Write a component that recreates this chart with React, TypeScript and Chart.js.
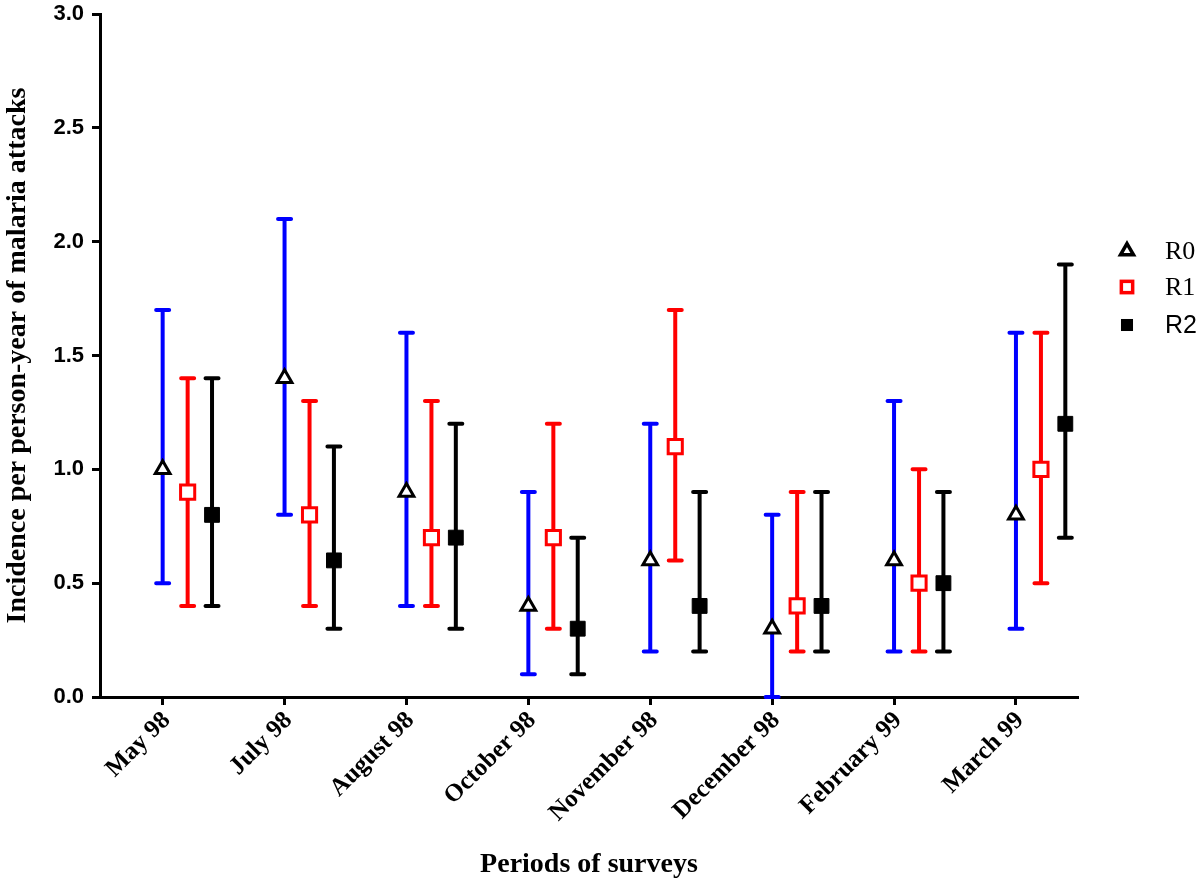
import React, { useEffect, useRef } from 'react';
import { Chart, registerables } from 'chart.js';

Chart.register(...registerables);

const categories = ['May 98', 'July 98', 'August 98', 'October 98', 'November 98', 'December 98', 'February 99', 'March 99'];
const seriesNames = ['R0', 'R1', 'R2'];

const r0Values = [1.0, 1.4, 0.9, 0.4, 0.6, 0.3, 0.6, 0.8];
const r0Low = [0.5, 0.8, 0.4, 0.1, 0.2, 0.0, 0.2, 0.3];
const r0High = [1.7, 2.1, 1.6, 0.9, 1.2, 0.8, 1.3, 1.6];

const r1Values = [0.9, 0.8, 0.7, 0.7, 1.1, 0.4, 0.5, 1.0];
const r1Low = [0.4, 0.4, 0.4, 0.3, 0.6, 0.2, 0.2, 0.5];
const r1High = [1.4, 1.3, 1.3, 1.2, 1.7, 0.9, 1.0, 1.6];

const r2Values = [0.8, 0.6, 0.7, 0.3, 0.4, 0.4, 0.5, 1.2];
const r2Low = [0.4, 0.3, 0.3, 0.1, 0.2, 0.2, 0.2, 0.7];
const r2High = [1.4, 1.1, 1.2, 0.7, 0.9, 0.9, 0.9, 1.9];

const yTickValues = [0, 0.5, 1.0, 1.5, 2.0, 2.5, 3.0];

const yTitle = 'Incidence per person-year of malaria attacks';
const xTitle = 'Periods of surveys';

const SERIF = "'Liberation Serif', 'Times New Roman', serif";
const SANS = "'Liberation Sans', Arial, Helvetica, sans-serif";

type Series = {
  name: string;
  values: number[];
  low: number[];
  high: number[];
  offset: number;
  barColor: string;
  marker: 'triangle' | 'openSquare' | 'filledSquare';
  legendFont: string;
  legendSize: number;
};

const series: Series[] = [
  { name: seriesNames[0], values: r0Values, low: r0Low, high: r0High, offset: 0, barColor: '#0000ff', marker: 'triangle', legendFont: `26px ${SERIF}`, legendSize: 7.5 },
  { name: seriesNames[1], values: r1Values, low: r1Low, high: r1High, offset: 0.205, barColor: '#ff0000', marker: 'openSquare', legendFont: `26px ${SERIF}`, legendSize: 8 },
  { name: seriesNames[2], values: r2Values, low: r2Low, high: r2High, offset: 0.405, barColor: '#000000', marker: 'filledSquare', legendFont: `25px ${SANS}`, legendSize: 8.5 },
];

function drawMarker(ctx: CanvasRenderingContext2D, kind: Series['marker'], x: number, y: number, size: number) {
  ctx.save();
  ctx.lineJoin = 'miter';
  if (kind === 'triangle') {
    const r = size;
    ctx.beginPath();
    ctx.moveTo(x, y - r);
    ctx.lineTo(x + r * Math.sin((2 * Math.PI) / 3), y - r * Math.cos((2 * Math.PI) / 3));
    ctx.lineTo(x + r * Math.sin((4 * Math.PI) / 3), y - r * Math.cos((4 * Math.PI) / 3));
    ctx.closePath();
    ctx.fillStyle = '#ffffff';
    ctx.fill();
    ctx.lineWidth = 3.5;
    ctx.strokeStyle = '#000000';
    ctx.stroke();
  } else if (kind === 'openSquare') {
    const h = size * Math.SQRT1_2;
    ctx.fillStyle = '#ffffff';
    ctx.fillRect(x - h, y - h, 2 * h, 2 * h);
    ctx.lineWidth = 3.5;
    ctx.strokeStyle = '#ff0000';
    ctx.strokeRect(x - h, y - h, 2 * h, 2 * h);
  } else {
    const h = size * Math.SQRT1_2;
    ctx.fillStyle = '#000000';
    ctx.fillRect(x - h, y - h, 2 * h, 2 * h);
  }
  ctx.restore();
}

const errorBarPlugin = {
  id: 'errorBars',
  beforeDatasetsDraw(chart: any) {
    const { ctx } = chart;
    const xs = chart.scales.x;
    const ys = chart.scales.y;
    ctx.save();
    series.forEach((s) => {
      ctx.strokeStyle = s.barColor;
      ctx.lineWidth = 4;
      categories.forEach((_, i) => {
        const x = xs.getPixelForValue(i + s.offset);
        const yLo = ys.getPixelForValue(s.low[i]);
        const yHi = ys.getPixelForValue(s.high[i]);
        ctx.lineCap = 'butt';
        ctx.beginPath();
        ctx.moveTo(x, yLo);
        ctx.lineTo(x, yHi);
        ctx.stroke();
        ctx.lineCap = 'round';
        ctx.beginPath();
        ctx.moveTo(x - 6.5, yLo);
        ctx.lineTo(x + 6.5, yLo);
        ctx.moveTo(x - 6.5, yHi);
        ctx.lineTo(x + 6.5, yHi);
        ctx.stroke();
      });
    });
    ctx.restore();
  },
};

const legendPlugin = {
  id: 'customLegend',
  afterDraw(chart: any) {
    const { ctx } = chart;
    const legendX = 1127;
    const textX = 1165;
    const rowY = [251, 287, 325];
    ctx.save();
    series.forEach((s, k) => {
      drawMarker(ctx, s.marker, legendX, rowY[k], s.legendSize);
      ctx.font = s.legendFont;
      ctx.fillStyle = '#000000';
      ctx.textAlign = 'left';
      ctx.textBaseline = 'middle';
      ctx.fillText(s.name, textX, rowY[k] + 1);
    });
    ctx.restore();
  },
};

export default function App() {
  const canvasRef = useRef<HTMLCanvasElement | null>(null);

  useEffect(() => {
    const canvas = canvasRef.current;
    if (!canvas) return;

    const datasets = series.map((s) => ({
      label: s.name,
      data: s.values.map((v, i) => ({ x: i + s.offset, y: v })),
      showLine: false,
      pointStyle: s.marker === 'triangle' ? 'triangle' : 'rect',
      pointRadius: s.marker === 'triangle' ? 8.5 : s.marker === 'openSquare' ? 10 : 10.5,
      pointBorderWidth: s.marker === 'filledSquare' ? 1 : 3,
      pointBorderColor: s.marker === 'openSquare' ? '#ff0000' : '#000000',
      pointBackgroundColor: s.marker === 'filledSquare' ? '#000000' : '#ffffff',
    }));

    const chart = new Chart(canvas, {
      type: 'scatter',
      data: { datasets },
      options: {
        animation: false,
        responsive: false,
        maintainAspectRatio: false,
        events: [],
        layout: { padding: { top: 14, right: 122, left: 0, bottom: 0 } },
        plugins: {
          legend: { display: false },
          tooltip: { enabled: false },
        },
        scales: {
          x: {
            type: 'linear',
            min: -0.514,
            max: 7.509,
            afterBuildTicks: (scale: any) => {
              scale.ticks = categories.map((_, i) => ({ value: i }));
            },
            afterFit: (scale: any) => {
              scale.height = 185;
              scale.paddingLeft = 0;
              scale.paddingRight = 0;
            },
            grid: {
              display: true,
              drawOnChartArea: false,
              drawTicks: true,
              tickLength: 8,
              tickWidth: 3,
              tickColor: '#000000',
            },
            border: { display: true, color: '#000000', width: 3 },
            ticks: {
              autoSkip: false,
              includeBounds: false,
              maxRotation: 45,
              minRotation: 45,
              padding: 1,
              labelOffset: 4,
              color: '#000000',
              font: { family: SERIF, size: 25, weight: 'bold' },
              callback: (v: any) => categories[Math.round(Number(v))] ?? '',
            },
            title: {
              display: true,
              text: xTitle,
              color: '#000000',
              font: { family: SERIF, size: 28, weight: 'bold' },
              padding: { top: 0, bottom: 0 },
            },
          },
          y: {
            type: 'linear',
            min: 0,
            max: 3,
            afterBuildTicks: (scale: any) => {
              scale.ticks = yTickValues.map((v) => ({ value: v }));
            },
            afterFit: (scale: any) => {
              scale.width = 100;
              scale.paddingTop = 0;
              scale.paddingBottom = 0;
            },
            grid: {
              display: true,
              drawOnChartArea: false,
              drawTicks: true,
              tickLength: 8,
              tickWidth: 3,
              tickColor: '#000000',
            },
            border: { display: true, color: '#000000', width: 3 },
            ticks: {
              padding: 8,
              color: '#000000',
              font: { family: SANS, size: 22, weight: 'bold' },
              callback: (v: any) => Number(v).toFixed(1),
            },
            title: {
              display: true,
              text: yTitle,
              color: '#000000',
              font: { family: SERIF, size: 28, weight: 'bold' },
              padding: { top: 1, bottom: 0 },
            },
          },
        },
      } as any,
      plugins: [errorBarPlugin, legendPlugin],
    });

    return () => {
      chart.destroy();
    };
  }, []);

  return (
    <div style={{ position: 'absolute', left: 0, top: 0, width: 1200, height: 882, background: '#ffffff' }}>
      <canvas ref={canvasRef} width={1200} height={882} style={{ width: 1200, height: 882, display: 'block' }} />
    </div>
  );
}
